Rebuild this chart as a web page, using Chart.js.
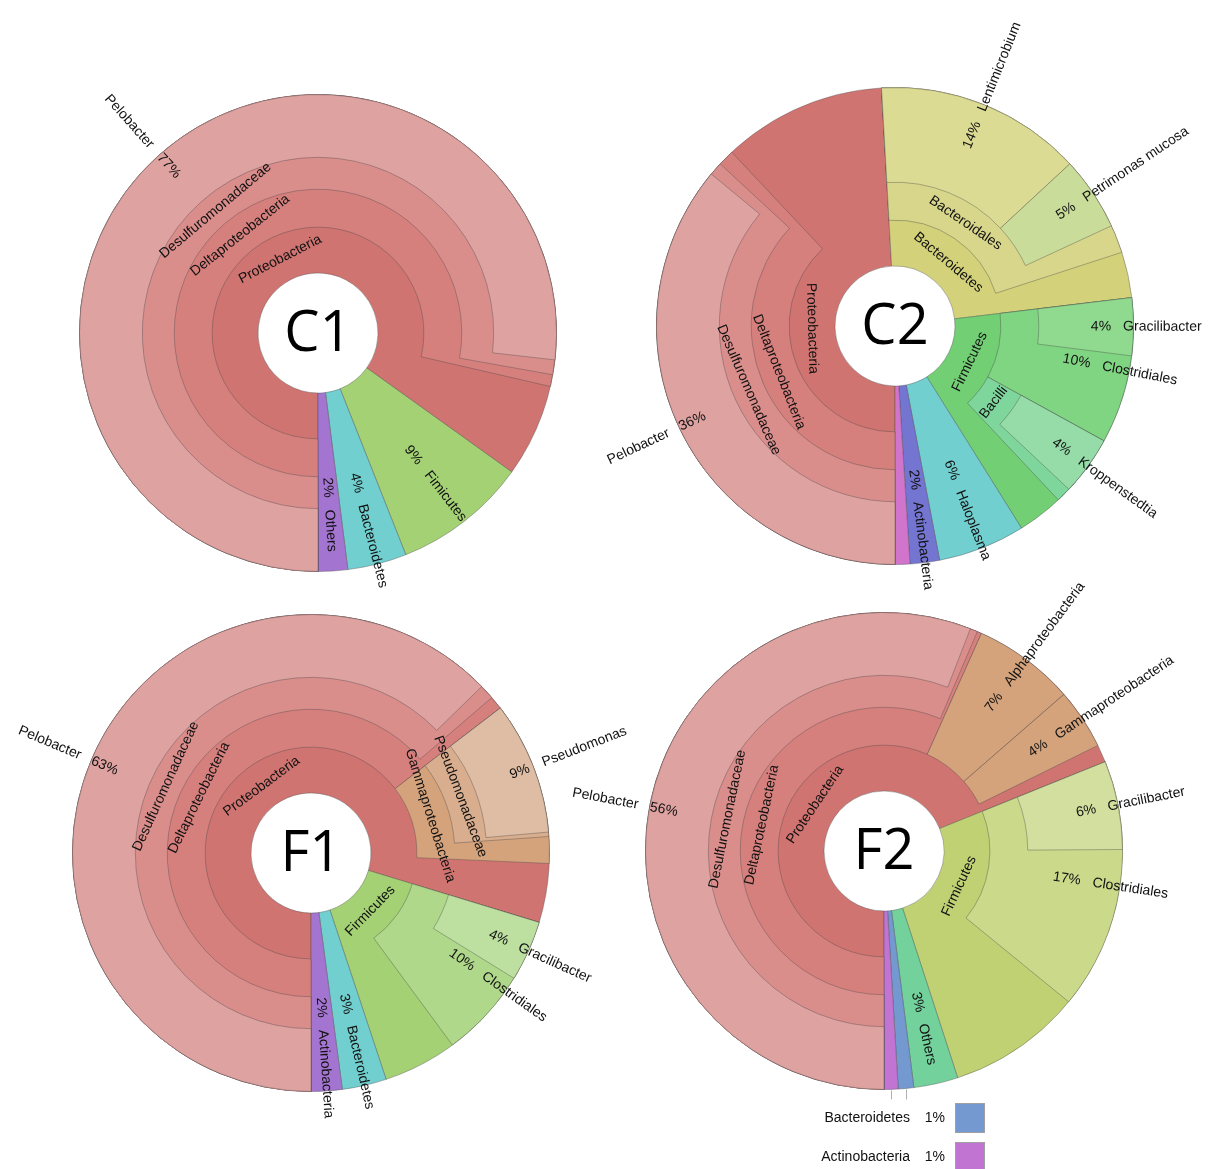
<!DOCTYPE html>
<html>
<head>
<meta charset="utf-8">
<script src="https://cdn.jsdelivr.net/npm/chart.js@4.4.1/dist/chart.umd.min.js"></script>
<style>
  html, body { margin: 0; padding: 0; background: #fff; overflow: hidden; }
  #wrap { position: relative; width: 1215px; height: 1169px; }
  #wrap canvas { position: absolute; left: 0; top: 0; }
</style>
</head>
<body>
<div id="wrap">
  <canvas id="c1" width="1215" height="1169"></canvas>
  <canvas id="c2" width="1215" height="1169"></canvas>
  <canvas id="f1" width="1215" height="1169"></canvas>
  <canvas id="f2" width="1215" height="1169"></canvas>
</div>
<script>
// --- C1 ---
const c1Names   = ['Proteobacteria', 'Deltaproteobacteria', 'Desulfuromonadaceae', 'Pelobacter', 'Fimicutes', 'Bacteroidetes', 'Others'];
const c1Values  = [84.9, 78.6, 77.8, 76.8, 9.1, 4.0, 2.0];
const c1Parents = [-1, 0, 1, 2, -1, -1, -1];

// --- C2 ---
const c2Names   = ['Proteobacteria', 'Deltaproteobacteria', 'Desulfuromonadaceae', 'Pelobacter',
                   'Bacteroidetes', 'Bacteroidales', 'Lentimicrobium', 'Petrimonas mucosa',
                   'Firmicutes', 'Clostridiales', 'Gracilibacter', 'Bacilli', 'Kroppenstedtia',
                   'Haloplasma', 'Actinobacteria', 'Others'];
const c2Values  = [49.1, 38.0, 36.9, 36.0, 24.0, 20.9, 14.0, 5.0, 18.0, 9.9, 3.9, 5.0, 4.0, 5.9, 2.0, 1.0];
const c2Parents = [-1, 0, 1, 2, -1, 4, 5, 5, -1, 8, 9, 8, 11, -1, -1, -1];

// --- F1 ---
const f1Names   = ['Proteobacteria', 'Deltaproteobacteria', 'Desulfuromonadaceae', 'Pelobacter',
                   'Gammaproteobacteria', 'Pseudomonadaceae', 'Pseudomonas',
                   'Firmicutes', 'Clostridiales', 'Gracilibacter', 'Bacteroidetes', 'Actinobacteria'];
const f1Values  = [79.7, 64.6, 63.7, 62.7, 11.1, 9.3, 9.0, 15.2, 10.2, 4.1, 3.0, 2.1];
const f1Parents = [-1, 0, 1, 2, 0, 4, 5, -1, 7, 8, -1, -1];

// --- F2 ---
const f2Names   = ['Proteobacteria', 'Deltaproteobacteria', 'Desulfuromonadaceae', 'Pelobacter',
                   'Alphaproteobacteria', 'Gammaproteobacteria',
                   'Firmicutes', 'Clostridiales', 'Gracilibacter', 'Others', 'Bacteroidetes', 'Actinobacteria'];
const f2Values  = [68.9, 56.7, 56.4, 55.9, 6.9, 4.1, 26.1, 17.0, 6.0, 3.0, 1.05, 0.95];
const f2Parents = [-1, 0, 1, 2, 0, 0, -1, 6, 7, -1, -1, -1];

// colours and label style ('t' tangent, 'r' radial, 'k' key below, '' none)
const reds = ['#d07471', '#d6807e', '#da8e8c', '#dea2a1'];
const c1Colors = [...reds, '#a3d174', '#72cfcf', '#a474d1'];
const c1Styles = ['t', 't', 't', 'r', 'r', 'r', 'r'];
const c2Colors = [...reds, '#d3d27a', '#d8d68a', '#dcdb93', '#c9dc99',
                  '#72cf74', '#80d582', '#8fda8f', '#7fd69c', '#95dca8', '#72cfcf', '#7474d1', '#d174cc'];
const c2Styles = ['t', 't', 't', 'r', 't', 't', 'r', 'r', 't', 'r', 'r', 't', 'r', 'r', 'r', ''];
const f1Colors = [...reds, '#d4a37c', '#d9ae8e', '#dfbda4', '#a3d174', '#afd88a', '#bde0a0', '#72cfcf', '#a474d1'];
const f1Styles = ['t', 't', 't', 'r', 't', 't', 'r', 't', 'r', 'r', 'r', 'r'];
const f2Colors = [...reds, '#d4a37c', '#d4a37c', '#c0d174', '#cad98a', '#d3df9f', '#73d29b', '#7499d1', '#c174d1'];
const f2Styles = ['t', 't', 't', 'r', 'r', 'r', 't', 'r', 'r', 'r', 'k', 'k'];

const ringWeights = [63, 32, 38, 46];        // outer ring first
const pctRadius = { 1: 155, 2: 185, 3: 206, 4: 224 };
const labelFont = '14px "Liberation Sans", Arial, sans-serif';
const lineColor = 'rgba(70,70,70,0.38)';

// turn the tree into one dataset per ring (transparent fillers for gaps)
function buildRings(names, values, parents, colors) {
  const depth = [], start = [], next = {};
  let rootPos = 0;
  names.forEach((n, i) => {
    const p = parents[i];
    if (p < 0) { depth[i] = 1; start[i] = rootPos; rootPos += values[i]; }
    else {
      depth[i] = depth[p] + 1;
      start[i] = next[p] !== undefined ? next[p] : start[p];
      next[p] = start[i] + values[i];
    }
  });
  const datasets = [];
  for (let d = 4; d >= 1; d--) {
    const ids = names.map((_, i) => i).filter(i => depth[i] === d).sort((a, b) => start[a] - start[b]);
    const data = [], nodeIdx = [], bg = [], bw = [];
    let pos = 0;
    ids.forEach(i => {
      if (start[i] - pos > 1e-6) { data.push(start[i] - pos); nodeIdx.push(-1); bg.push('rgba(0,0,0,0)'); bw.push(0); }
      data.push(values[i]); nodeIdx.push(i); bg.push(colors[i]); bw.push(1);
      pos = start[i] + values[i];
    });
    if (rootPos - pos > 1e-6) { data.push(rootPos - pos); nodeIdx.push(-1); bg.push('rgba(0,0,0,0)'); bw.push(0); }
    datasets.push({
      data, nodeIdx,
      backgroundColor: bg,
      borderColor: lineColor,
      borderWidth: bw,
      weight: ringWeights[4 - d]
    });
  }
  return { datasets, depth };
}

const kronaPlugin = {
  id: 'krona',
  beforeDatasetsDraw(chart) {
    // every node runs out to the rim, children are painted on top
    const R = chart.getDatasetMeta(0).controller.outerRadius;
    chart.data.datasets.forEach((ds, i) => {
      chart.getDatasetMeta(i).data.forEach(arc => { arc.outerRadius = R; });
    });
  },
  afterDatasetsDraw(chart) {
    const k = chart.data.krona;
    const ctx = chart.ctx;
    const R = chart.getDatasetMeta(0).controller.outerRadius;
    const cx = (chart.chartArea.left + chart.chartArea.right) / 2;
    const cy = (chart.chartArea.top + chart.chartArea.bottom) / 2;
    const keys = [];
    ctx.save();
    ctx.font = labelFont;
    ctx.fillStyle = '#111';
    ctx.textBaseline = 'middle';
    chart.data.datasets.forEach((ds, di) => {
      const meta = chart.getDatasetMeta(di);
      const ctrl = meta.controller;
      meta.data.forEach((arc, j) => {
        const n = ds.nodeIdx[j];
        if (n < 0) return;
        const style = k.styles[n];
        const phi = (arc.startAngle + arc.endAngle) / 2;
        if (style === 't') {
          const r = (ctrl.innerRadius + ctrl.outerRadius) / 2;
          const lower = Math.sin(phi) > 0;
          ctx.save();
          ctx.translate(arc.x, arc.y);
          ctx.rotate(lower ? phi - Math.PI / 2 : phi + Math.PI / 2);
          ctx.textAlign = 'center';
          ctx.fillText(k.names[n], 0, lower ? r : -r);
          ctx.restore();
        } else if (style === 'r') {
          const d = k.depth[n];
          const pct = Math.round(k.values[n]) + '%';
          const rp = pctRadius[d];
          let rn = rp + ctx.measureText(pct).width / 2 + 12;
          if (d === 4) rn = Math.max(rn, R + 10);
          const right = Math.cos(phi) >= 0;
          const s = right ? 1 : -1;
          ctx.save();
          ctx.translate(arc.x, arc.y);
          ctx.rotate(right ? phi : phi + Math.PI);
          ctx.textAlign = 'center';
          ctx.fillText(pct, s * rp, 0);
          ctx.textAlign = right ? 'left' : 'right';
          ctx.fillText(k.names[n], s * rn, 0);
          ctx.restore();
        } else if (style === 'k') {
          keys.push({ n, x: arc.x + R * Math.cos(phi), y: arc.y + R * Math.sin(phi) });
        }
      });
    });

    // key for the slivers
    keys.forEach((kk, i) => {
      ctx.strokeStyle = '#b0b0b0';
      ctx.lineWidth = 1;
      ctx.beginPath();
      ctx.moveTo(Math.round(kk.x) + 0.5, kk.y + 1);
      ctx.lineTo(Math.round(kk.x) + 0.5, cy + R + 10);
      ctx.stroke();
      const rowY = cy + 267 + i * 39;
      ctx.fillStyle = '#111';
      ctx.textAlign = 'right';
      ctx.fillText(k.names[kk.n], cx + 26, rowY);
      ctx.fillText(Math.round(k.values[kk.n]) + '%', cx + 61, rowY);
      ctx.fillStyle = k.colors[kk.n];
      ctx.fillRect(cx + 71, rowY - 15, 30, 30);
      ctx.strokeStyle = '#a0a0a0';
      ctx.strokeRect(cx + 71.5, rowY - 14.5, 29, 29);
    });

    // sample name in the hole
    ctx.fillStyle = '#000';
    ctx.textAlign = 'center';
    ctx.font = '56px "Open Sans", "Noto Sans", sans-serif';
    ctx.fillText(k.title, cx, cy + 2);
    ctx.restore();
  }
};

function drawKrona(id, title, center, names, values, parents, colors, styles) {
  const built = buildRings(names, values, parents, colors);
  const [cx, cy] = center;
  return new Chart(document.getElementById(id), {
    type: 'doughnut',
    data: {
      datasets: built.datasets,
      krona: { title, names, values, colors, styles, depth: built.depth }
    },
    options: {
      responsive: false,
      animation: false,
      events: [],
      rotation: 180,
      cutout: 60,
      layout: { padding: { left: cx - 239, right: 1215 - cx - 239, top: cy - 239, bottom: 1169 - cy - 239 } },
      plugins: { legend: { display: false }, tooltip: { enabled: false } }
    },
    plugins: [kronaPlugin]
  });
}

drawKrona('c1', 'C1', [318, 333], c1Names, c1Values, c1Parents, c1Colors, c1Styles);
drawKrona('c2', 'C2', [895, 326], c2Names, c2Values, c2Parents, c2Colors, c2Styles);
drawKrona('f1', 'F1', [311, 853], f1Names, f1Values, f1Parents, f1Colors, f1Styles);
drawKrona('f2', 'F2', [884, 851], f2Names, f2Values, f2Parents, f2Colors, f2Styles);
</script>
</body>
</html>
